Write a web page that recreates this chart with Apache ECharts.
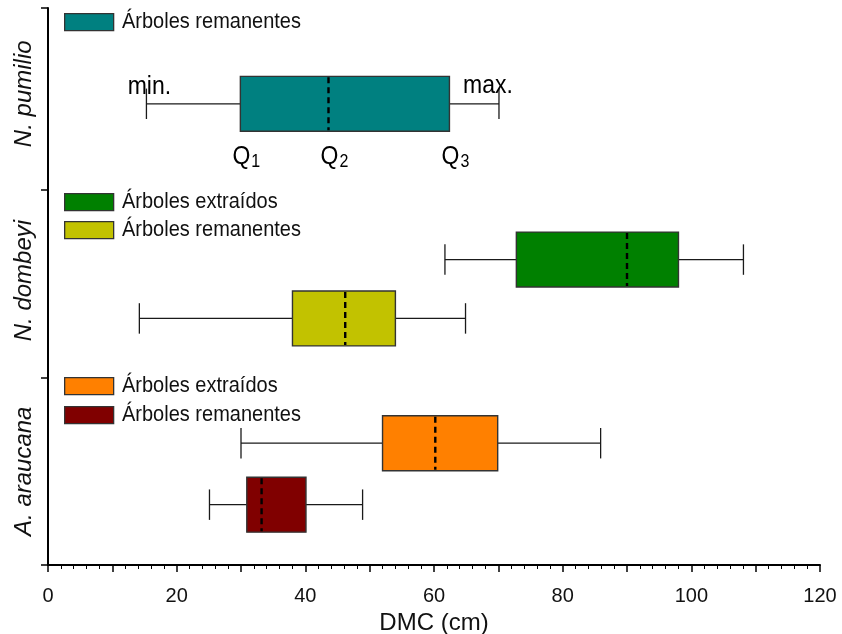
<!DOCTYPE html>
<html>
<head>
<meta charset="utf-8">
<script src="https://cdn.jsdelivr.net/npm/echarts@6/dist/echarts.min.js"></script>
<style>html,body{margin:0;padding:0;background:#fff}#c{width:842px;height:634px}</style>
</head>
<body>
<div id="c"></div>
<script>
// ---- data ----
const categories = ['A. araucana', 'N. dombeyi', 'N. pumilio'];
const legendExtraidos = 'Árboles extraídos';
const legendRemanentes = 'Árboles remanentes';
const axisTitle = 'DMC (cm)';
// [min, Q1, median, Q3, max]
const pumilioRemanentes = [15.3, 29.9, 43.6, 62.4, 70.1];
const dombeyiExtraidos = [61.7, 72.8, 90.0, 98.0, 108.1];
const dombeyiRemanentes = [14.2, 38.0, 46.2, 54.0, 64.9];
const araucanaExtraidos = [30.0, 52.0, 60.2, 69.9, 85.9];
const araucanaRemanentes = [25.1, 30.9, 33.2, 40.1, 48.9];
const xMin = 0, xMax = 120, xTickStep = 10, xLabelStep = 20;
const annotMin = 'min.', annotMax = 'max.';
const quartileLabels = ['1', '2', '3'];

// ---- layout (positions on a 0..3 vertical scale) ----
const rows = { pumilio: 2.484, dExt: 1.645, dRem: 1.328, aExt: 0.656, aRem: 0.325 };
const groupTicks = [0, 1.011, 2.022, 3];
const groupLabelPos = [0.505, 1.532, 2.538];
const boxHalf = 0.148, capHalf = 0.082;
const FONT = '"Liberation Sans", Arial, sans-serif';
const SY = 1.12; // vertical text stretch seen in the reference

const colors = {
  teal: '#008080', green: '#008000', yellow: '#C2C200', orange: '#FF8000', darkred: '#800000'
};

function boxRender(params, api) {
  const yv = api.value(5);
  const p = i => api.coord([api.value(i), yv]);
  const yc = p(0)[1];
  const top = api.coord([0, yv + boxHalf])[1];
  const bot = api.coord([0, yv - boxHalf])[1];
  const capT = api.coord([0, yv + capHalf])[1];
  const capB = api.coord([0, yv - capHalf])[1];
  const xmin = p(0)[0], xq1 = p(1)[0], xmed = p(2)[0], xq3 = p(3)[0], xmax = p(4)[0];
  const lineStyle = { stroke: '#1a1a1a', lineWidth: 1.3 };
  return {
    type: 'group',
    children: [
      { type: 'line', shape: { x1: xmin, y1: yc, x2: xq1, y2: yc }, style: lineStyle },
      { type: 'line', shape: { x1: xq3, y1: yc, x2: xmax, y2: yc }, style: lineStyle },
      { type: 'line', shape: { x1: xmin, y1: capT, x2: xmin, y2: capB }, style: lineStyle },
      { type: 'line', shape: { x1: xmax, y1: capT, x2: xmax, y2: capB }, style: lineStyle },
      { type: 'rect', shape: { x: xq1, y: top, width: xq3 - xq1, height: bot - top },
        style: { fill: api.visual('color'), stroke: '#333', lineWidth: 1.4 } },
      { type: 'line', shape: { x1: xmed, y1: top + 1, x2: xmed, y2: bot - 1 },
        style: { stroke: '#000', lineWidth: 2.4, lineDash: [6, 4] } }
    ]
  };
}

function txt(x, y, text, size, align) {
  return { type: 'text', x, y, scaleY: SY,
    style: { text, align, verticalAlign: 'middle', fontFamily: FONT, fontSize: size, fill: '#000' } };
}

function annotRender(params, api) {
  const yv = api.value(5);
  const p = i => api.coord([api.value(i), yv]);
  const yc = p(0)[1];
  const bot = api.coord([0, yv - boxHalf])[1];
  const children = [
    txt(p(0)[0] + 3, yc - 17, annotMin, 23, 'center'),
    txt(p(4)[0] - 11, yc - 18, annotMax, 23, 'center')
  ];
  [1, 2, 3].forEach((idx, k) => {
    const x = p(idx)[0];
    children.push(txt(x + 1, bot + 26, 'Q', 23, 'center'));
    children.push(txt(x + 11, bot + 31, quartileLabels[k], 16, 'left'));
  });
  return { type: 'group', children };
}

function boxSeries(name, values, row, color) {
  return {
    type: 'custom', name, xAxisIndex: 0, yAxisIndex: 0,
    renderItem: boxRender, itemStyle: { color },
    data: [values.concat([row])], silent: true
  };
}

function legendItem(x, y, color, label) {
  return [
    { type: 'rect', left: x, top: y, shape: { width: 49, height: 17 }, style: { fill: color, stroke: '#333', lineWidth: 1.3 } },
    { type: 'text', x: x + 58, y: y + 9, scaleY: SY,
      style: { text: label, fontFamily: FONT, fontSize: 20, fill: '#111', verticalAlign: 'middle' } }
  ];
}

const chart = echarts.init(document.getElementById('c'), null, { renderer: 'canvas' });
chart.setOption({
  animation: false,
  backgroundColor: '#fff',
  grid: { left: 48, right: 22, top: 8, bottom: 69, containLabel: false, outerBoundsMode: 'none' },
  xAxis: {
    type: 'value', min: xMin, max: xMax, interval: xTickStep,
    name: axisTitle, nameLocation: 'middle', nameGap: 40,
    nameTextStyle: { fontFamily: FONT, fontSize: 24, color: '#111' },
    axisLine: { onZero: false, lineStyle: { color: '#000', width: 2 } },
    axisTick: { show: true, length: 7, lineStyle: { color: '#000', width: 1.5 } },
    minorTick: { show: true, splitNumber: 5, length: 4, lineStyle: { color: '#000', width: 1 } },
    splitLine: { show: false },
    axisLabel: {
      fontFamily: FONT, fontSize: 20, color: '#111', margin: 21,
      formatter: v => (v % xLabelStep === 0 ? String(v) : '')
    }
  },
  yAxis: {
    type: 'value', min: 0, max: 3,
    axisLine: { show: true, onZero: false, lineStyle: { color: '#000', width: 2 } },
    axisTick: { show: true, length: 7, customValues: groupTicks, lineStyle: { color: '#000', width: 1.5 } },
    axisLabel: {
      customValues: groupLabelPos, rotate: 90, fontFamily: FONT, fontStyle: 'italic',
      fontSize: 24, color: '#111', margin: 12,
      formatter: v => categories[groupLabelPos.indexOf(v)] || ''
    },
    splitLine: { show: false }
  },
  graphic: [].concat(
    legendItem(64, 13, colors.teal, legendRemanentes),
    legendItem(64, 193, colors.green, legendExtraidos),
    legendItem(64, 221, colors.yellow, legendRemanentes),
    legendItem(64, 377, colors.orange, legendExtraidos),
    legendItem(64, 406, colors.darkred, legendRemanentes)
  ),
  series: [
    boxSeries('pumilio', pumilioRemanentes, rows.pumilio, colors.teal),
    boxSeries('dombeyiExt', dombeyiExtraidos, rows.dExt, colors.green),
    boxSeries('dombeyiRem', dombeyiRemanentes, rows.dRem, colors.yellow),
    boxSeries('araucanaExt', araucanaExtraidos, rows.aExt, colors.orange),
    boxSeries('araucanaRem', araucanaRemanentes, rows.aRem, colors.darkred),
    {
      type: 'custom', name: 'annot', xAxisIndex: 0, yAxisIndex: 0, silent: true,
      renderItem: annotRender, data: [pumilioRemanentes.concat([rows.pumilio])]
    }
  ]
});
</script>
</body>
</html>
